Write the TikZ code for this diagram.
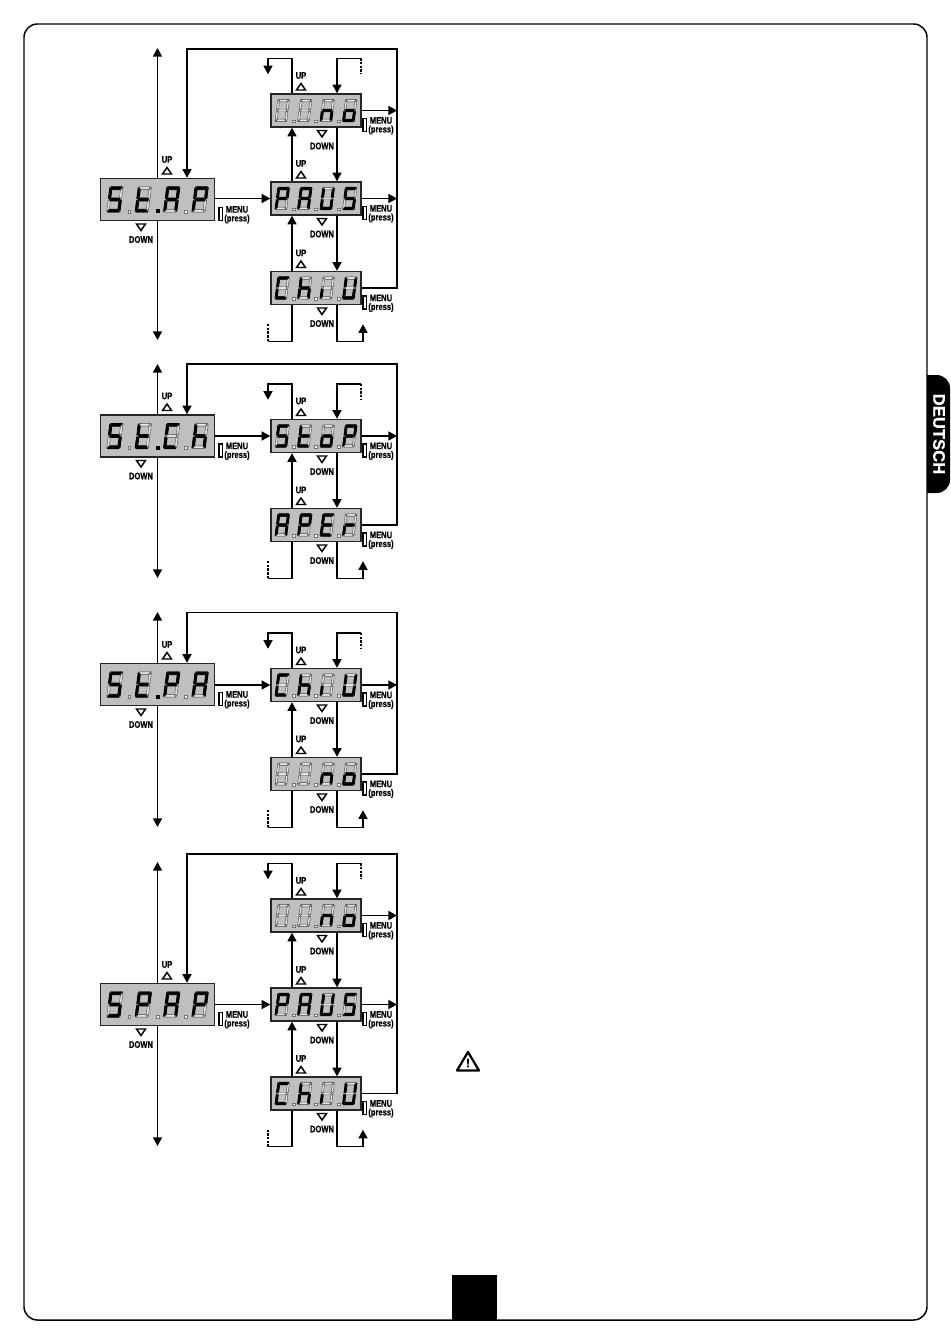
\documentclass[tikz,border=0pt]{standalone}
\usepackage{fontspec}
\usetikzlibrary{arrows.meta}
\newfontfamily\lblfont[FakeStretch=0.8,FakeBold=0.6]{Liberation Sans Bold}
\newfontfamily\tabfont[FakeBold=0.6]{Liberation Sans Bold}
\definecolor{dispgrey}{HTML}{BFBFBF}
\definecolor{segoffcol}{HTML}{E4E4E4}
\tikzset{
  conn/.style={line width=1.1pt},
  arr/.style={conn,-{Triangle[length=6.5pt,width=6.8pt]}},
  dashend/.style={conn,dash pattern=on 1.8pt off 1pt},
  mainbox/.style={draw=black!85,line width=1.1pt,fill=dispgrey,minimum width=85.5pt,minimum height=31.5pt,inner sep=0pt},
  subbox/.style={draw=black!85,line width=1.1pt,fill=dispgrey,minimum width=67.5pt,minimum height=24.75pt,inner sep=0pt},
  lbl/.style={font=\lblfont\fontsize{7.1}{8}\selectfont,inner sep=0pt,text=black},
  tri/.style={line width=1.1pt,line join=miter},
  tag/.style={draw=black,line width=.8pt,fill=white},
  segoff/.style={draw=black!75,line width=.3pt,fill=segoffcol},
  segon/.style={draw=black,line width=.6pt,line join=round,fill=black},
}
% segments
\def\dsega{(-4.8,-10.5)--(4.8,-10.5)--(3,-8.2)--(-3,-8.2)--cycle}
\def\dsegb{(5.5,-9.8)--(5.5,-.8)--(3.6,-1.8)--(3.6,-7.8)--cycle}
\def\dsegc{(5.5,9.8)--(5.5,.8)--(3.6,1.8)--(3.6,7.8)--cycle}
\def\dsegd{(-4.8,10.5)--(4.8,10.5)--(3,8.2)--(-3,8.2)--cycle}
\def\dsege{(-5.5,9.8)--(-5.5,.8)--(-3.6,1.8)--(-3.6,7.8)--cycle}
\def\dsegf{(-5.5,-9.8)--(-5.5,-.8)--(-3.6,-1.8)--(-3.6,-7.8)--cycle}
\def\dsegg{(-4.5,0)--(-3,-1.2)--(3,-1.2)--(4.5,0)--(3,1.2)--(-3,1.2)--cycle}
\def\dsegz{(0,0)}
% letters
\def\litS{a,f,g,c,d}
\def\litt{f,e,g,d}
\def\litA{a,b,c,e,f,g}
\def\litP{a,b,e,f,g}
\def\litU{b,c,d,e,f}
\def\litn{c,e,g}
\def\lito{c,d,e,g}
\def\litC{a,d,e,f}
\def\lith{c,e,f,g}
\def\liti{e}
\def\litE{a,d,e,f,g}
\def\litr{e,g}
\def\litX{z}
% node, digit scale, digit pitch, letters, lit dot
\newcommand{\dispchars}[5]{
  \foreach \ch [count=\i] in {#4}{
    \begin{scope}[shift={(#1.center)},shift={({(\i-2.5)*#3},0)},scale=#2,xslant=.13]
      \foreach \s in {a,b,c,d,e,f,g}{\path[segoff] \csname dseg\s\endcsname;}
      \edef\lit{\csname lit\ch\endcsname}
      \foreach \s in \lit{\path[segon] \csname dseg\s\endcsname;}
    \end{scope}
  }
  \foreach \j in {1,2,3}{
    \begin{scope}[shift={(#1.center)},shift={({(\j-2)*#3},{10*#2})}]
      \ifnum\j=#5
        \fill[black] (-2,-2) rectangle (2,2);
      \else
        \filldraw[draw=black!55,line width=.25pt,fill=white] (-1.4,-1.4) rectangle (1.4,1.4);
      \fi
    \end{scope}
  }
}
\newcommand{\uptri}[2]{\draw[tri] (#1-4.5,#2+3) -- (#1+4.5,#2+3) -- (#1,#2-3.5) -- cycle;}
\newcommand{\dntri}[2]{\draw[tri] (#1-4.5,#2-3) -- (#1+4.5,#2-3) -- (#1,#2+3.5) -- cycle;}
% name, centre of the tag, y of the box
\newcommand{\menutag}[3]{
  \draw[tag] (#2-18,#3+8) rectangle (#2-14.5,#3+21);
  \node[lbl] (#1menu) at (#2,#3+10) {MENU};
  \node[lbl] (#1press) at (#2,#3+19.5) {(press)};
}
\newcommand{\maindisp}[4]{
  \node[mainbox] (#1) at (157.5,#2) {};
  \dispchars{#1}{1.2}{28.4}{#3}{#4}
  \menutag{#1}{237}{#2}
  \node[lbl] (#1up) at (167,#2-40) {UP};
  \uptri{167}{#2-28.5}
  \dntri{141}{#2+27.5}
  \node[lbl] (#1down) at (141,#2+40) {DOWN};
}
\newcommand{\subdisp}[3]{
  \node[subbox] (#1) at (316,#2) {};
  \dispchars{#1}{1.06}{22.5}{#3}{0}
  \menutag{#1}{381}{#2}
  \node[lbl] (#1up) at (301,#2-35) {UP};
  \uptri{301}{#2-23.5}
  \dntri{322}{#2+23}
  \node[lbl] (#1down) at (322,#2+35.5) {DOWN};
}
\newcommand{\sublink}[2]{
  \draw[arr] (upx |- #2.north) -- (upx |- #1.south);
  \draw[arr] (dnx |- #1.south) -- (dnx |- #2.north);
}
\newcommand{\menuout}[1]{\draw[arr] (#1.east) -- (backx |- #1.east);}
% first box, last box
\newcommand{\loopends}[2]{
  \draw[arr] (upx |- #1.north) -- ++(0,-35) -- ++(-24,0) -- ++(0,16);
  \path (dnx |- #1.north) ++(24,-35) coordinate (#1end);
  \draw[dashend] (#1end) -- ++(0,16);
  \draw[arr] (#1end) -| (dnx |- #1.north);
  \draw[conn] (upx |- #2.south) -- ++(0,36) -- ++(-24,0) coordinate (#2end);
  \draw[dashend] (#2end) -- ++(0,-17);
  \draw[arr] (dnx |- #2.south) -- ++(0,36) -- ++(26,0) -- ++(0,-17);
}
% main box, box it enters, last box, y of the return line, y of both vertical ends
\newcommand{\mainflow}[6]{
  \coordinate (#1top) at (157.5,#5);
  \coordinate (#1bot) at (157.5,#6);
  \draw[arr] (#1.north) -- (#1top);
  \draw[arr] (#1.south) -- (#1bot);
  \draw[arr] (#1.east |- #2.west) -- (#2.west);
  \coordinate (#1ret) at (187,#4);
  \draw[arr] (#3.east) -| (backx |- #1ret) -- (#1ret) -- (#1ret |- #1.north);
}

\begin{document}
\begin{tikzpicture}[x=0.75pt,y=-0.75pt]
\useasboundingbox (0,0) rectangle (950,1344);
\coordinate (upx) at (292,0);
\coordinate (dnx) at (337,0);
\coordinate (backx) at (397,0);
% page
\draw[line width=1.1pt,rounded corners=10pt] (24,24) rectangle (927,1320);
\fill[black] (927,375) [rounded corners=10pt] -| (950,493) [sharp corners] -- (927,493) -- cycle;
\node[rotate=-90,text=white,inner sep=0pt,font=\tabfont\fontsize{12.5}{14}\selectfont] (tabname) at (939,434) {DEUTSCH};
\fill[black] (452,1275) rectangle (497,1320);
% first block
\maindisp{stap}{199.5}{S,t,A,P}{2}
\subdisp{onea}{110.5}{X,X,n,o}
\subdisp{oneb}{198.5}{P,A,U,S}
\subdisp{onec}{288}{C,h,i,U}
\mainflow{stap}{oneb}{onec}{49}{48}{340}
\sublink{onea}{oneb}
\sublink{oneb}{onec}
\menuout{onea}
\menuout{oneb}
\loopends{onea}{onec}
% second block
\maindisp{stch}{436}{S,t,C,h}{2}
\subdisp{twoa}{436}{S,t,o,P}
\subdisp{twob}{525}{A,P,E,r}
\mainflow{stch}{twoa}{twob}{364}{364}{578}
\sublink{twoa}{twob}
\menuout{twoa}
\loopends{twoa}{twob}
% third block
\maindisp{stpa}{684.5}{S,t,P,A}{2}
\subdisp{thra}{685}{C,h,i,U}
\subdisp{thrb}{774}{X,X,n,o}
\mainflow{stpa}{thra}{thrb}{612.5}{612}{827}
\sublink{thra}{thrb}
\menuout{thra}
\loopends{thra}{thrb}
% fourth block
\maindisp{spap}{1004.5}{S,P,A,P}{0}
\subdisp{foua}{915.5}{X,X,n,o}
\subdisp{foub}{1004.5}{P,A,U,S}
\subdisp{fouc}{1093.5}{C,h,i,U}
\mainflow{spap}{foub}{fouc}{854}{862}{1146}
\sublink{foua}{foub}
\sublink{foub}{fouc}
\menuout{foua}
\menuout{foub}
\loopends{foua}{fouc}
% warning
\draw[line width=1.7pt,line join=round] (468,1052) -- (479,1070.5) -- (457,1070.5) -- cycle;
\node[inner sep=0pt,font=\tabfont\fontsize{9}{10}\selectfont] (warnmark) at (468,1063) {!};
\end{tikzpicture}
\end{document}
